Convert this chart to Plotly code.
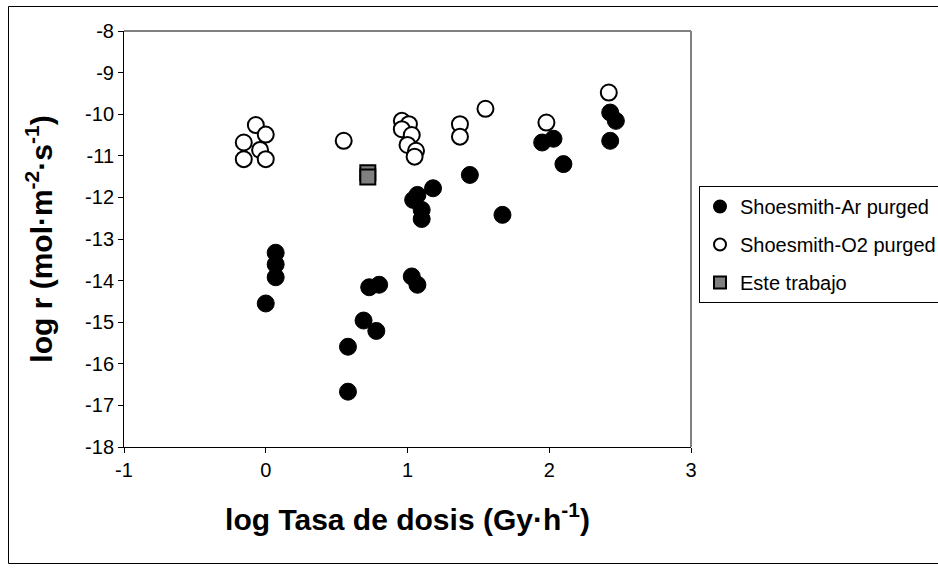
import plotly.graph_objects as go

# log dose rate (Gy/h) vs log dissolution rate (mol m^-2 s^-1)
ar_x = [0.07, 0.07, 0.07, 0.00, 0.58, 0.58, 0.69, 0.78, 0.73, 0.80, 1.03, 1.07,
        1.04, 1.07, 1.10, 1.10, 1.18, 1.44, 1.67, 1.95, 2.03, 2.10, 2.43, 2.47, 2.43]
ar_y = [-13.33, -13.61, -13.92, -14.55, -16.67, -15.59, -14.96, -15.21, -14.16, -14.10,
        -13.90, -14.10, -12.06, -11.94, -12.30, -12.52, -11.78, -11.46, -12.42, -10.68,
        -10.59, -11.20, -9.96, -10.16, -10.64]

o2_x = [-0.07, 0.00, -0.155, -0.04, -0.155, 0.00, 0.55, 0.96, 1.01, 0.96, 1.03, 1.00,
        1.06, 1.05, 1.37, 1.37, 1.55, 1.98, 2.42]
o2_y = [-10.26, -10.49, -10.68, -10.86, -11.08, -11.08, -10.64, -10.16, -10.24, -10.36,
        -10.50, -10.74, -10.88, -11.02, -10.24, -10.54, -9.87, -10.20, -9.48]

este_x = [0.72, 0.72]
este_y = [-11.41, -11.51]

x_ticks = [-1, 0, 1, 2, 3]
y_ticks = [-8, -9, -10, -11, -12, -13, -14, -15, -16, -17, -18]

FONT = "Liberation Sans, Arial, sans-serif"

fig = go.Figure()
fig.add_trace(go.Scatter(
    x=ar_x, y=ar_y, mode="markers", name="Shoesmith-Ar purged",
    legendgroup="a",
    marker=dict(symbol="circle", size=17, color="black",
                line=dict(color="black", width=1)),
))
fig.add_trace(go.Scatter(
    x=o2_x, y=o2_y, mode="markers", name="Shoesmith-O2 purged",
    legendgroup="b",
    marker=dict(symbol="circle", size=16, color="white",
                line=dict(color="black", width=2)),
))
fig.add_trace(go.Scatter(
    x=este_x, y=este_y, mode="markers", name="Este trabajo",
    legendgroup="c",
    marker=dict(symbol="square", size=15, color="#808080",
                line=dict(color="black", width=2)),
))

W, H = 938, 568
L, R, T, B = 124, 691, 31, 447
pw, ph = R - L, B - T

fig.update_layout(
    width=W, height=H,
    margin=dict(l=L, r=W - R, t=T, b=H - B, pad=0, autoexpand=False),
    paper_bgcolor="white", plot_bgcolor="white",
    font=dict(family=FONT, size=20, color="black"),
    showlegend=True,
    legend=dict(
        x=(699 - L) / pw, y=(B - 186) / ph, xanchor="left", yanchor="top",
        bordercolor="black", borderwidth=1, bgcolor="white",
        font=dict(family=FONT, size=20, color="black"),
        itemsizing="constant", traceorder="grouped", tracegroupgap=9,
        itemwidth=30,
    ),
    xaxis=dict(
        range=[-1, 3], tickvals=x_ticks, ticktext=[str(v) for v in x_ticks],
        showgrid=False, zeroline=False, showline=True, linecolor="black", linewidth=1,
        ticks="outside", ticklen=5, tickcolor="black", mirror=False,
        tickfont=dict(family=FONT, size=20, color="black"),
        title=dict(text="<b>log Tasa de dosis (Gy·h<sup>-1</sup>)</b>",
                   font=dict(family=FONT, size=30, color="black"), standoff=28),
    ),
    yaxis=dict(
        range=[-18, -8], tickvals=y_ticks, ticktext=[str(v) for v in y_ticks],
        showgrid=False, zeroline=False, showline=True, linecolor="black", linewidth=1,
        ticks="outside", ticklen=5, tickcolor="black",
        tickfont=dict(family=FONT, size=20, color="black"),
        title=dict(text="<b>log r (mol·m<sup>-2</sup>·s<sup>-1</sup>)</b>",
                   font=dict(family=FONT, size=30, color="black"), standoff=23),
    ),
)

# grey plot-area frame on the top and right sides
fig.add_shape(type="line", xref="paper", yref="paper", x0=0, x1=1, y0=1, y1=1,
              line=dict(color="#808080", width=2), layer="below")
fig.add_shape(type="line", xref="paper", yref="paper", x0=1, x1=1, y0=0, y1=1,
              line=dict(color="#808080", width=2), layer="below")

# outer chart border
fig.add_shape(type="rect", xref="paper", yref="paper",
              x0=(8.5 - L) / pw, x1=(945 - L) / pw,
              y0=(B - 563.5) / ph, y1=(B - 6.5) / ph,
              line=dict(color="black", width=1), fillcolor="rgba(0,0,0,0)",
              layer="below")

fig.write_html("out.html")
